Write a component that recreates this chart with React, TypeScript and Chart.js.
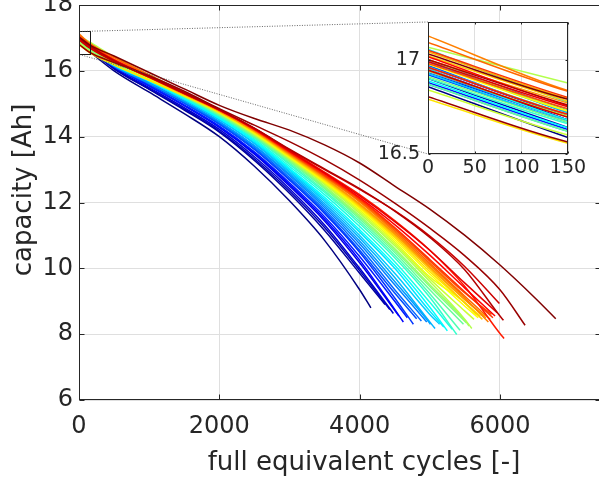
import React, { useEffect, useRef } from "react";
import { Chart, registerables } from "chart.js";

Chart.register(...registerables);

// ---------- data ----------
const gridCycles = [0, 150, 500, 1000, 1500, 2000, 2500, 3000, 3500, 4000, 4500, 5000, 5500, 6000, 6500];

// capacity [Ah] of each cell at gridCycles (up to its end of test), blue -> dark red
const capacity: number[][] = [
  [16.857, 16.587, 16.0, 15.35, 14.7, 14.0, 13.1, 12.05, 10.85, 9.35],
  [16.95, 16.68, 16.07, 15.44, 14.81, 14.14, 13.28, 12.28, 11.15, 9.85],
  [16.9, 16.64, 16.06, 15.45, 14.84, 14.17, 13.33, 12.35, 11.24, 9.93],
  [16.93, 16.68, 16.1, 15.49, 14.88, 14.22, 13.39, 12.42, 11.32, 10.0],
  [16.999, 16.73, 16.17, 15.55, 14.94, 14.28, 13.47, 12.5, 11.44, 10.17],
  [16.96, 16.7, 16.15, 15.55, 14.95, 14.3, 13.5, 12.55, 11.5, 10.25, 8.75],
  [16.88, 16.63, 16.12, 15.54, 14.96, 14.32, 13.54, 12.6, 11.57, 10.36, 9.0],
  [17.0, 16.72, 16.19, 15.61, 15.02, 14.38, 13.61, 12.68, 11.67, 10.49, 9.1],
  [16.92, 16.67, 16.15, 15.59, 15.02, 14.39, 13.63, 12.71, 11.72, 10.55, 9.25],
  [16.97, 16.7, 16.18, 15.63, 15.05, 14.43, 13.67, 12.76, 11.78, 10.65, 9.35],
  [16.94, 16.68, 16.18, 15.64, 15.07, 14.45, 13.71, 12.82, 11.85, 10.75, 9.5],
  [16.87, 16.62, 16.14, 15.62, 15.07, 14.46, 13.73, 12.86, 11.91, 10.83, 9.6, 8.33],
  [16.99, 16.72, 16.21, 15.68, 15.12, 14.51, 13.79, 12.91, 11.97, 10.92, 9.72, 8.37],
  [16.928, 16.668, 16.19, 15.68, 15.13, 14.52, 13.81, 12.95, 12.04, 11.0, 9.85, 8.6],
  [17.055, 16.775, 16.27, 15.74, 15.18, 14.57, 13.86, 13.0, 12.1, 11.1, 10.0, 8.7],
  [16.889, 16.639, 16.17, 15.69, 15.15, 14.56, 13.88, 13.04, 12.16, 11.17, 10.09, 8.82],
  [16.95, 16.68, 16.22, 15.72, 15.18, 14.6, 13.92, 13.1, 12.24, 11.27, 10.2, 8.97],
  [16.9, 16.66, 16.21, 15.72, 15.2, 14.63, 13.96, 13.16, 12.31, 11.36, 10.32, 9.12],
  [16.96, 16.71, 16.24, 15.74, 15.22, 14.65, 13.98, 13.2, 12.36, 11.43, 10.4, 9.23],
  [16.871, 16.621, 16.19, 15.71, 15.21, 14.66, 14.0, 13.24, 12.42, 11.5, 10.48, 9.35],
  [16.91, 16.67, 16.23, 15.74, 15.23, 14.68, 14.03, 13.27, 12.46, 11.55, 10.55, 9.45],
  [17.0, 16.73, 16.28, 15.77, 15.26, 14.71, 14.05, 13.3, 12.5, 11.6, 10.6, 9.5, 8.42],
  [17.066, 16.876, 16.42, 15.85, 15.3, 14.74, 14.08, 13.33, 12.55, 11.67, 10.69, 9.6, 8.45],
  [16.839, 16.6, 16.19, 15.72, 15.24, 14.72, 14.08, 13.35, 12.58, 11.72, 10.75, 9.68, 8.7],
  [16.94, 16.7, 16.27, 15.77, 15.27, 14.74, 14.1, 13.37, 12.61, 11.77, 10.81, 9.74, 8.95],
  [16.977, 16.727, 16.29, 15.78, 15.28, 14.75, 14.12, 13.39, 12.64, 11.82, 10.87, 9.83, 8.85],
  [16.79, 16.557, 16.18, 15.71, 15.24, 14.74, 14.13, 13.41, 12.67, 11.86, 10.93, 9.9, 8.95],
  [17.02, 16.78, 16.32, 15.8, 15.29, 14.77, 14.15, 13.43, 12.7, 11.9, 10.98, 9.97, 8.95],
  [17.043, 16.793, 16.34, 15.82, 15.3, 14.78, 14.17, 13.45, 12.73, 11.93, 11.03, 10.02, 9.05],
  [17.0, 16.77, 16.31, 15.8, 15.29, 14.78, 14.17, 13.47, 12.75, 11.96, 11.05, 10.05, 9.05],
  [17.126, 16.836, 16.42, 15.88, 15.35, 14.82, 14.21, 13.49, 12.78, 12.02, 11.1, 10.1, 9.1],
  [17.092, 16.832, 16.4, 15.86, 15.34, 14.82, 14.21, 13.5, 12.8, 12.05, 11.15, 10.15, 9.15],
  [16.98, 16.74, 16.3, 15.8, 15.3, 14.8, 14.21, 13.52, 12.82, 12.09, 11.2, 10.22, 9.25],
  [17.05, 16.8, 16.35, 15.83, 15.32, 14.82, 14.22, 13.53, 12.84, 12.11, 11.24, 10.27, 9.28],
  [16.96, 16.71, 16.29, 15.81, 15.32, 14.81, 14.24, 13.58, 12.92, 12.24, 11.45, 10.55, 9.45, 8.02],
  [17.016, 16.756, 16.33, 15.83, 15.32, 14.82, 14.23, 13.55, 12.88, 12.15, 11.33, 10.4, 9.4],
  [16.99, 16.75, 16.31, 15.82, 15.32, 14.81, 14.24, 13.57, 12.9, 12.2, 11.42, 10.55, 9.55],
  [16.945, 16.695, 16.28, 15.81, 15.32, 14.82, 14.25, 13.6, 13.0, 12.4, 11.75, 10.98, 10.05],
  [17.0, 16.76, 16.31, 15.83, 15.33, 14.83, 14.26, 13.62, 13.02, 12.42, 11.74, 10.94, 9.95, 8.55],
  [16.804, 16.564, 16.25, 15.85, 15.38, 14.85, 14.35, 13.85, 13.3, 12.68, 11.98, 11.22, 10.38, 9.35],
  [17.03, 16.79, 16.45, 15.95, 15.45, 14.95, 14.55, 14.2, 13.75, 13.2, 12.5, 11.8, 11.0, 10.1, 9.1],
];

// end of test of each cell
const endCycle = [
  4160, 4362, 4430, 4481, 4560, 4623, 4680, 4766, 4813, 4880, 4956, 5010, 5075, 5140, 5200, 5250,
  5320, 5384, 5431, 5480, 5520, 5560, 5598, 5630, 5660, 5690, 5720, 5750, 5780, 5800, 5835, 5860,
  5880, 5900, 6058, 5930, 5960, 5992, 6050, 6358, 6795,
];
const endCapacity = [
  8.8, 8.9, 8.75, 8.63, 8.55, 8.37, 8.5, 8.3, 8.47, 8.4, 8.37, 8.3, 8.17, 8.3, 8.22, 8.1,
  8.15, 7.99, 8.12, 8.3, 8.35, 8.25, 8.17, 8.45, 8.6, 8.5, 8.55, 8.45, 8.55, 8.5, 8.37, 8.45,
  8.6, 8.5, 7.87, 8.55, 8.65, 8.93, 8.42, 8.27, 8.47,
];

const mainXRange = [0, 7440];
const mainYRange = [6, 18];
const mainXTicks = [0, 2000, 4000, 6000];
const mainYTicks = [6, 8, 10, 12, 14, 16, 18];
const insetXRange = [0, 150];
const insetYRange = [16.5, 17.2];
const insetXTicks = [0, 50, 100, 150];
const insetYTicks = [16.5, 17];

const xTitle = "full equivalent cycles [-]";
const yTitle = "capacity [Ah]";

// ---------- style / layout ----------
const FONT = "'DejaVu Sans', Verdana, sans-serif";
const AXIS = "#262626";
const GRID = "#dfdfdf";
const MAIN_W = 602;
const MAIN_H = 480;
const INSET_POS = { left: 380, top: 10, w: 219, h: 180 };
const INSET_AREA = { left: 48, top: 12, right: 188, bottom: 144 };

function jet(t: number): string {
  const c = (v: number) => Math.max(0, Math.min(1, v));
  const r = c(1.5 - Math.abs(4 * t - 3));
  const g = c(1.5 - Math.abs(4 * t - 2));
  const b = c(1.5 - Math.abs(4 * t - 1));
  return `rgb(${Math.round(r * 255)},${Math.round(g * 255)},${Math.round(b * 255)})`;
}

function buildDatasets() {
  const n = capacity.length;
  return capacity.map((vals, k) => ({
    data: [
      ...vals.map((v, i) => ({ x: gridCycles[i], y: v })),
      { x: endCycle[k], y: endCapacity[k] },
    ],
    borderColor: jet(k / (n - 1)),
    borderWidth: 1.5,
    pointRadius: 0,
    fill: false,
    cubicInterpolationMode: "monotone" as const,
    order: n - 1 - k,
  }));
}

function scaleOpts(
  range: number[],
  ticks: number[],
  fontSize: number,
  padding: number,
  fixed: number,
  isX: boolean
) {
  return {
    type: "linear" as const,
    position: isX ? "bottom" : "left",
    min: range[0],
    max: range[1],
    afterBuildTicks: (s: any) => {
      s.ticks = ticks.map((v) => ({ value: v }));
    },
    afterFit: (s: any) => {
      if (isX) s.height = fixed;
      else s.width = fixed;
      s.paddingTop = 0;
      s.paddingBottom = 0;
      s.paddingLeft = 0;
      s.paddingRight = 0;
    },
    grid: { color: GRID, lineWidth: 1, drawTicks: false },
    border: { display: false },
    ticks: {
      font: { family: FONT, size: fontSize },
      color: AXIS,
      padding,
      autoSkip: false,
      maxRotation: 0,
      minRotation: 0,
      callback: (v: any) => String(v),
    },
  };
}

function drawBoxAndTicks(chart: any, xt: number[], yt: number[], len: number) {
  const { ctx, chartArea: a, scales } = chart;
  const x = scales.x;
  const y = scales.y;
  const L = Math.round(a.left) + 0.5;
  const R = Math.round(a.right) - 0.5;
  const T = Math.round(a.top) + 0.5;
  const B = Math.round(a.bottom) - 0.5;
  ctx.save();
  ctx.strokeStyle = AXIS;
  ctx.lineWidth = 1;
  ctx.beginPath();
  for (const v of xt) {
    const p = Math.round(x.getPixelForValue(v)) + 0.5;
    ctx.moveTo(p, B);
    ctx.lineTo(p, B - len);
    ctx.moveTo(p, T);
    ctx.lineTo(p, T + len);
  }
  for (const v of yt) {
    const p = Math.round(y.getPixelForValue(v)) + 0.5;
    ctx.moveTo(L, p);
    ctx.lineTo(L + len, p);
    ctx.moveTo(R, p);
    ctx.lineTo(R - len, p);
  }
  ctx.stroke();
  ctx.strokeRect(L, T, R - L, B - T);
  ctx.restore();
}

const mainDecor = {
  id: "mainDecor",
  afterDatasetsDraw(chart: any) {
    const { ctx, scales } = chart;
    const x = scales.x;
    const y = scales.y;
    ctx.save();
    // zoom rectangle
    const rx0 = Math.round(x.getPixelForValue(insetXRange[0])) + 0.5;
    const rx1 = Math.round(x.getPixelForValue(insetXRange[1])) + 0.5;
    const ry0 = Math.round(y.getPixelForValue(insetYRange[0])) + 0.5;
    const ry1 = Math.round(y.getPixelForValue(insetYRange[1])) + 0.5;
    ctx.strokeStyle = "#1a1a1a";
    ctx.lineWidth = 1;
    ctx.strokeRect(rx0, ry1, rx1 - rx0, ry0 - ry1);
    // dotted connectors to the inset
    const ix = INSET_POS.left + INSET_AREA.left;
    const iyTop = INSET_POS.top + INSET_AREA.top;
    const iyBot = INSET_POS.top + INSET_AREA.bottom;
    ctx.setLineDash([1, 1.5]);
    ctx.strokeStyle = "#555";
    ctx.lineWidth = 0.9;
    ctx.beginPath();
    ctx.moveTo(rx0, ry1);
    ctx.lineTo(ix, iyTop);
    ctx.moveTo(rx0, ry0);
    ctx.lineTo(ix, iyBot);
    ctx.stroke();
    ctx.setLineDash([]);
    ctx.restore();

    drawBoxAndTicks(chart, mainXTicks, mainYTicks, 5);

    // axis titles
    ctx.save();
    ctx.fillStyle = AXIS;
    ctx.font = `26px ${FONT}`;
    ctx.textAlign = "center";
    ctx.textBaseline = "alphabetic";
    ctx.fillText(xTitle, 364, 470);
    ctx.translate(30.5, 190);
    ctx.rotate(-Math.PI / 2);
    ctx.fillText(yTitle, 0, 0);
    ctx.restore();
  },
};

const insetDecor = {
  id: "insetDecor",
  beforeDraw(chart: any) {
    const { ctx, chartArea: a } = chart;
    ctx.save();
    ctx.fillStyle = "#ffffff";
    ctx.fillRect(a.left, a.top, a.right - a.left, a.bottom - a.top);
    ctx.restore();
  },
  afterDatasetsDraw(chart: any) {
    drawBoxAndTicks(chart, insetXTicks, insetYTicks, 2);
  },
};

export default function App() {
  const mainRef = useRef<HTMLCanvasElement | null>(null);
  const insetRef = useRef<HTMLCanvasElement | null>(null);

  useEffect(() => {
    if (!mainRef.current || !insetRef.current) return;
    const main = new Chart(mainRef.current, {
      type: "line",
      data: { datasets: buildDatasets() as any },
      options: {
        responsive: false,
        animation: false,
        devicePixelRatio: 1,
        events: [],
        layout: { padding: { left: 0, top: 5, right: 1, bottom: 0 } },
        plugins: { legend: { display: false }, tooltip: { enabled: false } },
        scales: {
          x: scaleOpts(mainXRange, mainXTicks, 24, 12, 80, true) as any,
          y: scaleOpts(mainYRange, mainYTicks, 24, 6, 79, false) as any,
        },
      },
      plugins: [mainDecor],
    });
    const inset = new Chart(insetRef.current, {
      type: "line",
      data: { datasets: buildDatasets() as any },
      options: {
        responsive: false,
        animation: false,
        devicePixelRatio: 1,
        events: [],
        layout: {
          padding: {
            left: 0,
            top: INSET_AREA.top,
            right: INSET_POS.w - INSET_AREA.right,
            bottom: 0,
          },
        },
        plugins: { legend: { display: false }, tooltip: { enabled: false } },
        scales: {
          x: scaleOpts(insetXRange, insetXTicks, 19, 3, INSET_POS.h - INSET_AREA.bottom, true) as any,
          y: scaleOpts(insetYRange, insetYTicks, 19, 8, INSET_AREA.left, false) as any,
        },
      },
      plugins: [insetDecor],
    });
    return () => {
      main.destroy();
      inset.destroy();
    };
  }, []);

  return (
    <div
      style={{
        position: "absolute",
        left: 0,
        top: 0,
        width: 599,
        height: 480,
        overflow: "hidden",
        background: "#ffffff",
      }}
    >
      <canvas
        ref={mainRef}
        width={MAIN_W}
        height={MAIN_H}
        style={{ position: "absolute", left: 0, top: 0, display: "block" }}
      />
      <canvas
        ref={insetRef}
        width={INSET_POS.w}
        height={INSET_POS.h}
        style={{ position: "absolute", left: INSET_POS.left, top: INSET_POS.top, display: "block" }}
      />
    </div>
  );
}
